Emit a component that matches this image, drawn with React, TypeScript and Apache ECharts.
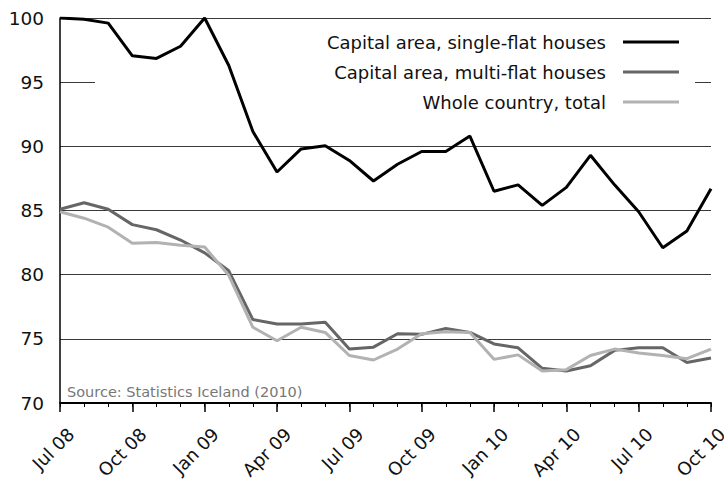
import React, { useEffect, useRef } from "react";
import * as echarts from "echarts";

const months = [
  "Jul 08", "Aug 08", "Sep 08", "Oct 08", "Nov 08", "Dec 08",
  "Jan 09", "Feb 09", "Mar 09", "Apr 09", "May 09", "Jun 09",
  "Jul 09", "Aug 09", "Sep 09", "Oct 09", "Nov 09", "Dec 09",
  "Jan 10", "Feb 10", "Mar 10", "Apr 10", "May 10", "Jun 10",
  "Jul 10", "Aug 10", "Sep 10", "Oct 10",
];

const singleFlat = [
  100, 99.9, 99.6, 97.05, 96.85, 97.8, 100, 96.3, 91.15, 88.0,
  89.8, 90.05, 88.9, 87.3, 88.6, 89.6, 89.6, 90.8, 86.5, 87.0,
  85.4, 86.8, 89.3, 87.0, 84.9, 82.1, 83.4, 86.7,
];

const multiFlat = [
  85.1, 85.6, 85.1, 83.9, 83.5, 82.7, 81.7, 80.3, 76.5, 76.15,
  76.15, 76.3, 74.2, 74.35, 75.4, 75.35, 75.8, 75.5, 74.6, 74.3,
  72.7, 72.5, 72.9, 74.1, 74.3, 74.3, 73.15, 73.5,
];

const wholeCountry = [
  84.9, 84.4, 83.7, 82.45, 82.5, 82.3, 82.15, 79.95, 75.9, 74.85,
  75.9, 75.5, 73.7, 73.35, 74.2, 75.4, 75.55, 75.5, 73.4, 73.75,
  72.5, 72.6, 73.7, 74.2, 73.9, 73.7, 73.45, 74.2,
];

const seriesNames = [
  "Capital area, single-flat houses",
  "Capital area, multi-flat houses",
  "Whole country, total",
];

const sourceText = "Source: Statistics Iceland (2010)";

const FONT = "DejaVu Sans";

export default function App() {
  const ref = useRef<HTMLDivElement>(null);
  useEffect(() => {
    if (!ref.current) return;
    const chart = echarts.init(ref.current, null, { renderer: "svg" });
    const mkSeries = (name: string, data: number[], color: string, width: number) => ({
      name,
      type: "line",
      data,
      symbol: "none",
      showSymbol: false,
      z: 3,
      lineStyle: { color, width },
      itemStyle: { color },
    });
    chart.setOption({
      animation: false,
      backgroundColor: "#fff",
      textStyle: { fontFamily: FONT },
      grid: {
        left: 60,
        right: 13,
        top: 18,
        bottom: 77,
        containLabel: false,
        outerBoundsMode: "none",
      },
      legend: {
        orient: "vertical",
        align: "right",
        right: 45,
        top: 33,
        padding: 0,
        itemWidth: 56,
        itemHeight: 14,
        itemGap: 12,
        icon: "path://M0,5.5L56,5.5L56,8.5L0,8.5Z",
        data: seriesNames,
        textStyle: {
          fontFamily: FONT,
          fontSize: 18,
          color: "#111",
          padding: [0, 12, 0, 0],
        },
      },
      graphic: [
        {
          type: "rect",
          shape: { x: 95, y: 24, width: 600, height: 84 },
          style: { fill: "#fff" },
          z: 1,
        },
        {
          type: "text",
          left: 67,
          top: 384,
          z: 5,
          style: {
            text: sourceText,
            fill: "#777",
            font: `14.5px "${FONT}"`,
          },
        },
      ],
      xAxis: [
        {
          type: "category",
          data: months,
          boundaryGap: false,
          axisLine: { lineStyle: { color: "#000", width: 2 } },
          axisTick: { show: true, interval: 2, length: 9, lineStyle: { color: "#000", width: 1.5 } },
          axisLabel: {
            interval: 2,
            rotate: 45,
            fontFamily: FONT,
            fontSize: 18,
            color: "#111",
            margin: 17,
            align: "right",
            verticalAlign: "top",
            lineHeight: 31,
          },
          splitLine: { show: false },
        },
        {
          type: "category",
          data: months,
          boundaryGap: false,
          position: "bottom",
          axisLine: { show: false },
          axisTick: { show: true, interval: 0, length: 4, lineStyle: { color: "#000", width: 1 } },
          axisLabel: { show: false },
          splitLine: { show: false },
        },
      ],
      yAxis: {
        type: "value",
        min: 70,
        max: 100,
        interval: 5,
        axisLine: { show: true, lineStyle: { color: "#000", width: 1.5 } },
        axisTick: { show: false },
        axisLabel: {
          fontFamily: FONT,
          fontSize: 18.5,
          color: "#111",
          margin: 16,
        },
        splitLine: { show: true, lineStyle: { color: "#3a3a3a", width: 1 } },
      },
      series: [
        mkSeries(seriesNames[0], singleFlat, "#000", 3),
        mkSeries(seriesNames[1], multiFlat, "#666", 3),
        mkSeries(seriesNames[2], wholeCountry, "#b2b2b2", 3),
      ],
    });
    return () => chart.dispose();
  }, []);
  return <div ref={ref} style={{ width: 724, height: 480, position: "absolute", left: 0, top: 0 }} />;
}
